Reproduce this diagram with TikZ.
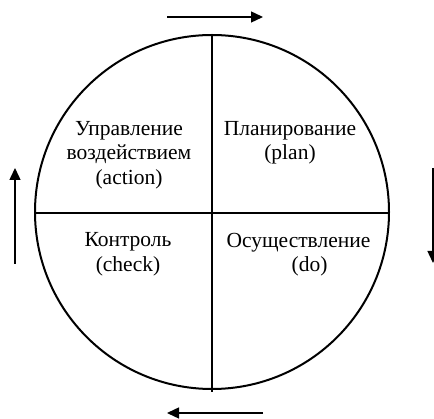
\documentclass[tikz,border=0pt]{standalone}
\usepackage{fontspec}
\setmainfont{Liberation Serif}
\usetikzlibrary{arrows.meta}

\tikzset{
  quarter/.style={align=center, font=\fontsize{21.5}{24.5}\selectfont, inner sep=0pt},
  cycle arrow/.style={->, >={Triangle[length=12pt,width=11pt]}, line width=1.4pt}
}

\begin{document}
\begin{tikzpicture}[x=1pt,y=-1pt]
\useasboundingbox (0,0) rectangle (434,419);

\draw[line width=2pt] (212,212) circle (177);
\draw[line width=2pt] (35,213)--(389,213);
\draw[line width=2pt] (212,35)--(212,392);

\node[quarter] (action) at (129,155) {Управление\\воздействием\\(action)};
\node[quarter] (plan) at (290,143) {Планирование\\(plan)};
\node[quarter] (check) at (128,254.5) {Контроль\\(check)};
\node[quarter] (do) at (298.5,254.5) {Осуществление\\\hspace*{22pt}(do)};

%\draw[dashed] (212,35)--(212,0);
\draw[cycle arrow] (167,17)--(263,17);
\draw[cycle arrow] (433,168)--(433,263);
\draw[cycle arrow] (263,413)--(167,413);
\draw[cycle arrow] (15,264)--(15,168);

\end{tikzpicture}
\end{document}
